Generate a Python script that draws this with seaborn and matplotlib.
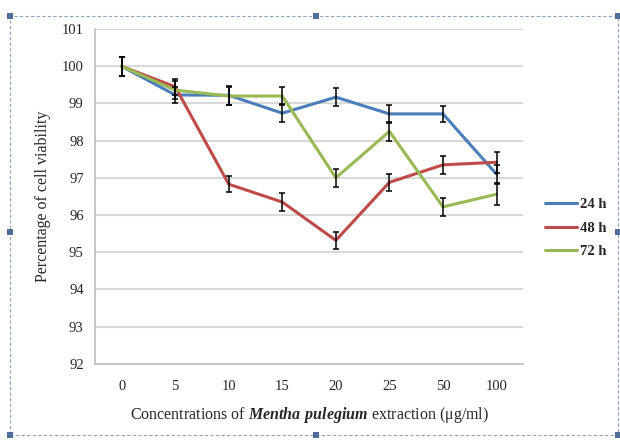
import numpy as np
import pandas as pd
import matplotlib
matplotlib.use("Agg")
import matplotlib.pyplot as plt
from matplotlib.patches import Rectangle
import seaborn as sns

# data
concentrations = ["0", "5", "10", "15", "20", "25", "50", "100"]
series_names = ["24 h", "48 h", "72 h"]
viability_24h = [100.0, 99.23, 99.22, 98.74, 99.17, 98.72, 98.72, 97.1]
viability_48h = [100.0, 99.45, 96.83, 96.35, 95.32, 96.88, 97.35, 97.42]
viability_72h = [100.0, 99.36, 99.2, 99.2, 97.0, 98.25, 96.22, 96.56]
error_24h = [0.25, 0.22, 0.25, 0.25, 0.25, 0.25, 0.22, 0.25]
error_48h = [0.25, 0.22, 0.22, 0.25, 0.22, 0.22, 0.25, 0.28]
error_72h = [0.25, 0.25, 0.25, 0.25, 0.25, 0.25, 0.25, 0.28]
y_ticks = [92, 93, 94, 95, 96, 97, 98, 99, 100, 101]

colors = ["#4A7EBB", "#BE4B48", "#98B954"]

sns.set_style("white")
plt.rcParams["font.family"] = ["Liberation Serif", "DejaVu Serif"]
plt.rcParams["mathtext.fontset"] = "custom"
plt.rcParams["mathtext.rm"] = "Liberation Serif"
plt.rcParams["mathtext.bfit"] = "Liberation Serif:italic:bold"

values = [viability_24h, viability_48h, viability_72h]
errors = [error_24h, error_48h, error_72h]
df = pd.DataFrame({
    "pos": np.tile(np.arange(len(concentrations)), len(series_names)),
    "value": np.concatenate(values),
    "error": np.concatenate(errors),
    "time": np.repeat(series_names, len(concentrations)),
})

fig = plt.figure(figsize=(6.2, 4.41), dpi=100)
ax = fig.add_axes([0.153, 0.175, 0.691, 0.759])

for name, color in zip(series_names, colors):
    sub = df[df["time"] == name]
    ax.errorbar(sub["pos"], sub["value"], yerr=sub["error"], fmt="none",
                ecolor="black", elinewidth=1.1, capsize=2.5, capthick=1.1, zorder=4)

sns.lineplot(data=df, x="pos", y="value", hue="time", palette=colors,
             linewidth=2.2, ax=ax, zorder=3)

ax.set_xlim(-0.5, len(concentrations) - 0.5)
ax.set_ylim(92, 101)
ax.set_yticks(y_ticks)
ax.set_xticks(np.arange(len(concentrations)))
ax.set_xticklabels(concentrations)
ax.set_xticks(np.arange(len(concentrations) + 1) - 0.5, minor=True)
ax.tick_params(axis="x", which="major", length=0, pad=12, labelsize=10.5)
ax.tick_params(axis="x", which="minor", length=4, color="#A6A6A6", width=1)
ax.tick_params(axis="y", length=4, color="#A6A6A6", width=1, labelsize=10.5, pad=4)
ax.grid(axis="y", color="#D9D9D9", linewidth=1.5)
ax.set_axisbelow(True)
for side in ["top", "right"]:
    ax.spines[side].set_visible(False)
for side in ["left", "bottom"]:
    ax.spines[side].set_color("#BFBFBF")
    ax.spines[side].set_linewidth(1.2)

ax.set_ylabel("Percentage of cell viability", fontsize=11.5, labelpad=8)
ax.set_xlabel(r"Concentrations of $\mathbfit{Mentha\ pulegium}$ extraction (μg/ml)",
              fontsize=11.5, labelpad=8)

leg = ax.legend(loc="center left", bbox_to_anchor=(545 / 620, 1 - 228 / 441),
                bbox_transform=fig.transFigure, frameon=False, borderpad=0,
                borderaxespad=0, prop={"weight": "bold", "size": 10.5},
                handlelength=2.2, handletextpad=0.2, labelspacing=0.7)
for line in leg.get_lines():
    line.set_linewidth(2.2)

# selection frame around the chart
fig.add_artist(Rectangle((10 / 620, 1 - 435 / 441), 608 / 620, 419 / 441,
                         transform=fig.transFigure, fill=False,
                         edgecolor="#8FA3BF", linestyle=(0, (3, 2)), linewidth=0.8))
handles = [(10, 16), (316, 16), (618, 16), (10, 232), (618, 232),
           (10, 435), (316, 435), (618, 435)]
for hx, hy in handles:
    fig.add_artist(Rectangle(((hx - 3) / 620, 1 - (hy + 3) / 441), 6 / 620, 6 / 441,
                             transform=fig.transFigure, facecolor="#4F6F9A",
                             edgecolor="none"))

fig.savefig("out.png", dpi=100)
